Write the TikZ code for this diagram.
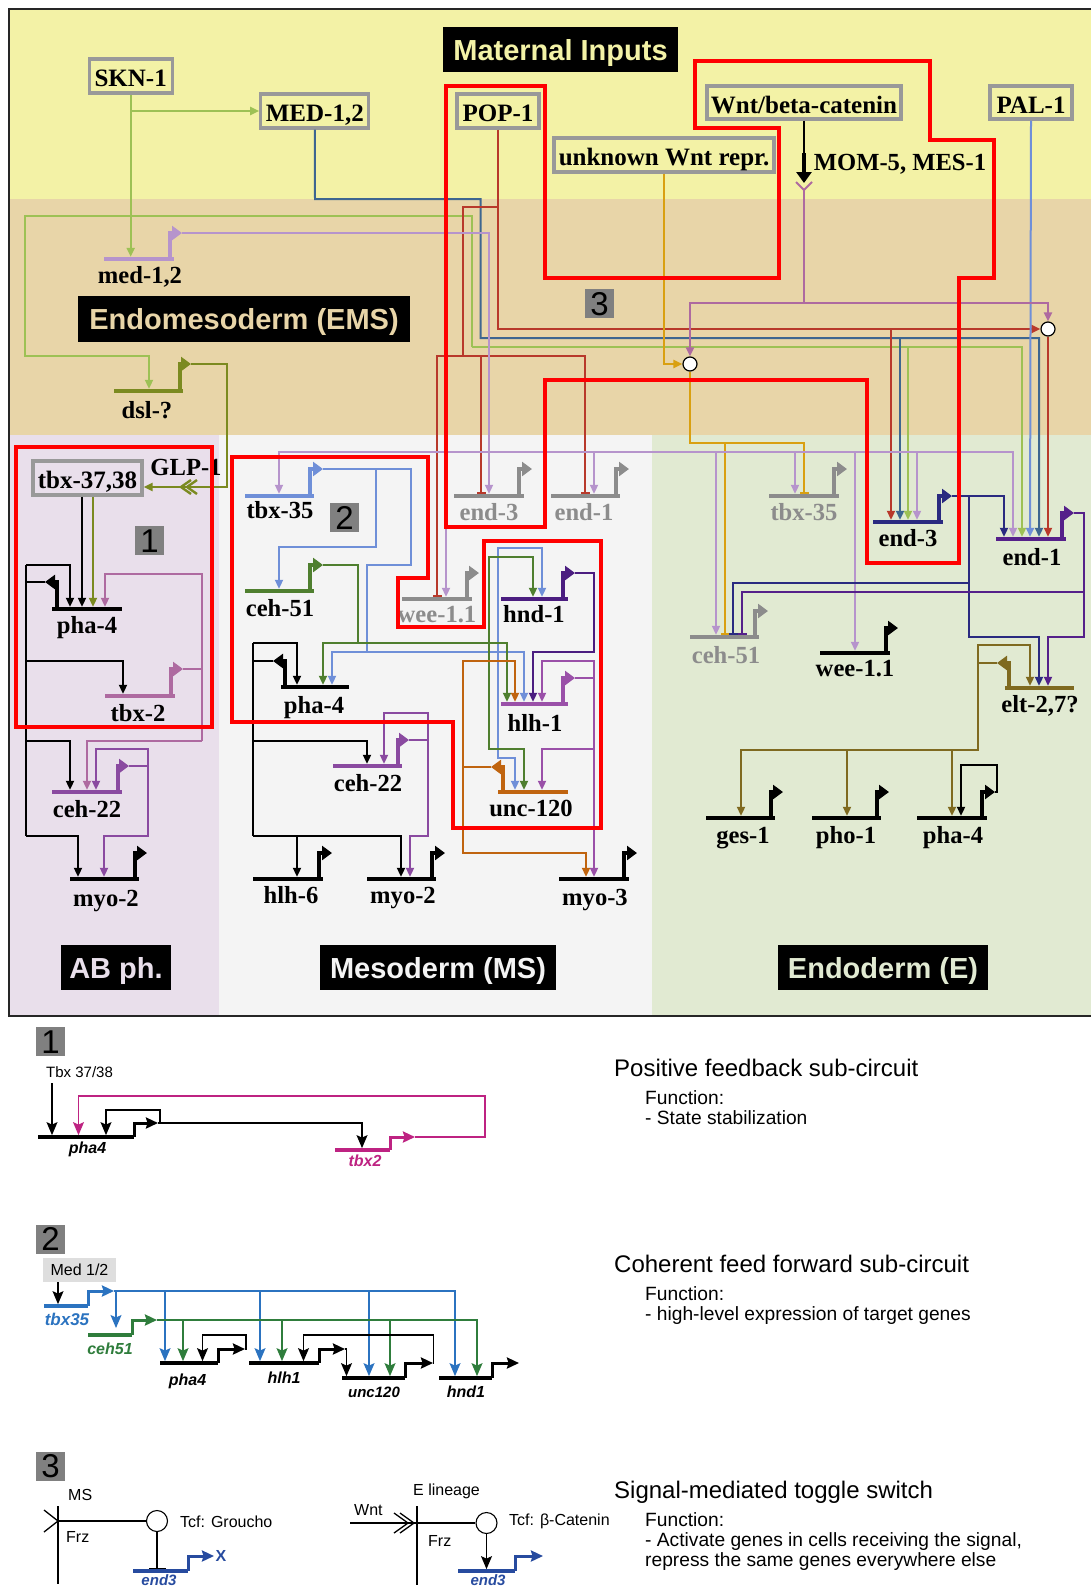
\documentclass[tikz,border=0pt]{standalone}
\usepackage{fontspec}
\setmainfont{Liberation Serif}
\setsansfont{Liberation Sans}
\usepackage{xcolor}
\usetikzlibrary{arrows.meta}

\definecolor{cyellow}{HTML}{F3F2A6}
\definecolor{ctan}{HTML}{E8D5A8}
\definecolor{clav}{HTML}{E9DFEB}
\definecolor{cms}{HTML}{F4F4F4}
\definecolor{cend}{HTML}{E1EAD2}
\definecolor{cboxg}{HTML}{999999}
\definecolor{cnum}{HTML}{808080}
\definecolor{cgene}{HTML}{8C8C8C}
\definecolor{cskn}{HTML}{9DC155}
\definecolor{cmed}{HTML}{3D6690}
\definecolor{cpop}{HTML}{B8392B}
\definecolor{clil}{HTML}{B694CC}
\definecolor{colive}{HTML}{7B8A20}
\definecolor{cblue}{HTML}{6F8FD8}
\definecolor{cgreen}{HTML}{4F7F2F}
\definecolor{cwnt}{HTML}{D9A011}
\definecolor{cmag}{HTML}{AE6AA0}
\definecolor{cpur}{HTML}{8A4AA0}
\definecolor{chnd}{HTML}{4B1D80}
\definecolor{chlh}{HTML}{9A50A8}
\definecolor{cunc}{HTML}{C0640F}
\definecolor{cnavy}{HTML}{2A2A80}
\definecolor{cviol}{HTML}{55208A}
\definecolor{celt}{HTML}{7F6A20}
\definecolor{lmag}{HTML}{BE2382}
\definecolor{lblue}{HTML}{2B73C0}
\definecolor{lgreen}{HTML}{2F7D3C}
\definecolor{lnavy}{HTML}{274B9F}

% name, colour, left, right, y, stem x, tip x, tip y
\newcommand{\gene}[8]{
\node [genebar, fill=#2, minimum width=#4pt-#3pt] (#1) at (#3/2+#4/2,#5) {};
\coordinate (#1-tip) at (#7,#8);
\draw [stem, #2] (#6,#5) -- (#6,#8) -- (#1-tip);
}
% name, colour, left, right, y, tip y, tip x
\newcommand{\lowgene}[7]{
\node [lowbar, fill=#2, minimum width=#4pt-#3pt] (#1) at (#3/2+#4/2,#5) {};
\coordinate (#1-tip) at (#7,#6);
\draw [lowstem, #2] (#4,#5) -- (#4,#6) -- (#1-tip);
}

\begin{document}
\begin{tikzpicture}[x=1pt, y=-1pt]
\tikzstyle{genebar} = [rectangle, inner sep=0pt, minimum height=4pt]
\tikzstyle{lowbar} = [rectangle, inner sep=0pt, minimum height=3.4pt]
\tikzstyle{stem} = [line width=3.4pt, -{Triangle[length=10pt,width=14pt]}]
\tikzstyle{lowstem} = [line width=3pt, -{Stealth[length=12pt,width=11pt,inset=1.5pt]}]
\tikzstyle{wire} = [line width=2pt]
\tikzstyle{act} = [wire, -{Triangle[length=9pt,width=8pt]}]
\tikzstyle{rep} = [wire, -{Bar[width=9pt,line width=2pt]}]
\tikzstyle{thin} = [line width=1.3pt]
\tikzstyle{lowact} = [thin, -{Stealth[length=13pt,width=11pt,inset=2.5pt]}]
\tikzstyle{input} = [rectangle, draw=cboxg, line width=3.2pt, inner sep=0pt, text height=21pt, text depth=0pt, font=\fontsize{25}{25}\selectfont\bfseries]
\tikzstyle{genelabel} = [inner sep=0pt, font=\fontsize{24.6}{25}\selectfont\bfseries]
\tikzstyle{title} = [rectangle, fill=black, inner sep=0pt, text height=21pt, text depth=0pt, font=\sffamily\fontsize{29}{29}\selectfont\bfseries]
\tikzstyle{num} = [rectangle, fill=cnum, text=black, inner sep=0pt, minimum size=29pt, text height=23.6pt, text depth=0pt, font=\sffamily\fontsize{33}{33}\selectfont]
\tikzstyle{lowlabel} = [inner sep=0pt, font=\sffamily\fontsize{16}{16}\selectfont\bfseries\itshape]
\tikzstyle{small} = [inner sep=0pt, anchor=west, font=\sffamily\fontsize{15}{15}\selectfont]
\tikzstyle{smalltoo} = [inner sep=0pt, anchor=west, font=\sffamily\fontsize{16}{16}\selectfont]
\tikzstyle{head} = [inner sep=0pt, anchor=base west, font=\sffamily\fontsize{24}{24}\selectfont]
\tikzstyle{body} = [inner sep=0pt, anchor=base west, font=\sffamily\fontsize{19.2}{19}\selectfont]
\tikzstyle{signal} = [circle, draw=black, fill=white, line width=1.2pt, inner sep=0pt, minimum size=14pt]
\tikzstyle{redbox} = [red, line width=4pt, line join=miter]

\useasboundingbox (0,0) rectangle (1091,1587);
\fill [white] (0,0) rectangle (1091,1587);

% regions
\fill [cyellow] (9,9) rectangle (1091,199);
\fill [ctan] (9,199) rectangle (1091,435);
\fill [clav] (9,435) rectangle (219,1016);
\fill [cms] (219,435) rectangle (652,1016);
\fill [cend] (652,435) rectangle (1091,1016);
\draw [line width=2pt, black!85] (1091,9) -- (9,9) -- (9,1016) -- (1091,1016);

% region titles
\node [title, text=cyellow, minimum width=235pt, minimum height=45pt] (tmat) at (560.5,49.5) {Maternal Inputs};
\node [title, text=ctan, minimum width=332pt, minimum height=46pt] (tems) at (244,319) {Endomesoderm (EMS)};
\node [title, text=clav, minimum width=110pt, minimum height=45pt] (tab) at (116,967.5) {AB ph.};
\node [title, text=cms, minimum width=236pt, minimum height=45pt] (tms) at (438,967.5) {Mesoderm (MS)};
\node [title, text=cend, minimum width=210pt, minimum height=45pt] (tend) at (883,967.5) {Endoderm (E)};

% maternal factors
\node [input, minimum width=83pt, minimum height=34pt] (sknbox) at (130.7,76) {SKN-1};
\node [input, minimum width=108pt, minimum height=34pt] (medbox) at (314.8,111) {MED-1,2};
\node [input, minimum width=82pt, minimum height=34pt] (popbox) at (498,111) {POP-1};
\node [input, minimum width=194pt, minimum height=33pt] (wntbox) at (804,102.5) {Wnt/beta-catenin};
\node [input, minimum width=82pt, minimum height=33pt] (palbox) at (1031,102.5) {PAL-1};
\node [input, minimum width=220pt, minimum height=34pt] (unkbox) at (664,155) {unknown Wnt repr.};
\node [input, minimum width=109pt, minimum height=34pt] (tbxbox) at (87.5,478) {tbx-37,38};
\node [genelabel] (momlab) at (900,164) {MOM-5, MES-1};
\node [genelabel] (glplab) at (186,467) {GLP-1};

% genes
\gene{med12}{clil}{104}{174}{259}{170}{182}{233}
\gene{dsl}{colive}{114}{183}{391}{180}{191}{364}
\gene{abpha4}{black}{52}{122}{609}{57}{45}{582}
\gene{abtbx2}{cmag}{105}{175}{696}{171}{183}{669}
\gene{abceh22}{cpur}{52}{122}{792}{118}{129}{766}
\gene{abmyo2}{black}{70}{139}{879}{135}{147}{853}
\gene{mstbx35}{cblue}{245}{314}{496}{310}{323}{469}
\gene{msceh51}{cgreen}{245}{314}{591}{310}{323}{565}
\gene{mspha4}{black}{281}{349}{687}{285}{273}{661}
\gene{msceh22}{cpur}{333}{402}{766}{398}{409}{740}
\gene{mshlh6}{black}{253}{323}{879}{319}{332}{853}
\gene{msmyo2}{black}{367}{436}{879}{432}{445}{853}
\gene{msmyo3}{black}{559}{629}{879}{624}{637}{853}
\gene{msend3}{cgene}{454}{524}{496}{519}{532}{469}
\gene{msend1}{cgene}{551}{620}{496}{616}{629}{469}
\gene{mswee1}{cgene}{402}{472}{599}{467}{479}{573}
\gene{mshnd1}{chnd}{501}{568}{599}{563}{575}{573}
\gene{mshlh1}{chlh}{501}{568}{704}{563}{575}{678}
\gene{msunc120}{cunc}{498}{568}{792}{503}{491}{767}
\gene{etbx35}{cgene}{769}{839}{496}{834}{847}{469}
\gene{eend3}{cnavy}{873}{943}{522}{939}{952}{496}
\gene{eend1}{cviol}{996}{1066}{539}{1062}{1074}{513}
\gene{eceh51}{cgene}{690}{759}{637}{755}{768}{611}
\gene{ewee1}{black}{820}{890}{653}{886}{898}{628}
\gene{eelt}{celt}{1005}{1074}{688}{1009}{997}{663}
\gene{eges1}{black}{706}{775}{818}{771}{783}{792}
\gene{epho1}{black}{812}{881}{818}{877}{889}{792}
\gene{epha4}{black}{917}{987}{818}{982}{995}{792}

% gene names
\node [genelabel] (med12l) at (140,277) {med-1,2};
\node [genelabel] (dsll) at (147,410) {dsl-?};
\node [genelabel] (abpha4l) at (87,628) {pha-4};
\node [genelabel] (abtbx2l) at (138,713) {tbx-2};
\node [genelabel] (abceh22l) at (87,809) {ceh-22};
\node [genelabel] (abmyo2l) at (106,901) {myo-2};
\node [genelabel] (mstbx35l) at (280,510) {tbx-35};
\node [genelabel] (msceh51l) at (280,608) {ceh-51};
\node [genelabel] (mspha4l) at (314,708) {pha-4};
\node [genelabel] (msceh22l) at (368,783) {ceh-22};
\node [genelabel] (mshlh6l) at (291,895) {hlh-6};
\node [genelabel] (msmyo2l) at (403,898) {myo-2};
\node [genelabel] (msmyo3l) at (595,900) {myo-3};
\node [genelabel, cgene] (msend3l) at (489,512) {end-3};
\node [genelabel, cgene] (msend1l) at (584,512) {end-1};
\node [genelabel, cgene] (mswee1l) at (437,615) {wee-1.1};
\node [genelabel] (mshnd1l) at (534,614) {hnd-1};
\node [genelabel] (mshlh1l) at (535,723) {hlh-1};
\node [genelabel] (msunc120l) at (531,808) {unc-120};
\node [genelabel, cgene] (etbx35l) at (804,512) {tbx-35};
\node [genelabel] (eend3l) at (908,538) {end-3};
\node [genelabel] (eend1l) at (1032,557) {end-1};
\node [genelabel, cgene] (eceh51l) at (726,655) {ceh-51};
\node [genelabel] (ewee1l) at (855,669) {wee-1.1};
\node [genelabel] (eeltl) at (1040,706) {elt-2,7?};
\node [genelabel] (eges1l) at (743,838) {ges-1};
\node [genelabel] (epho1l) at (846,838) {pho-1};
\node [genelabel] (epha4l) at (953,838) {pha-4};

% signal switches
\node [signal] (sigleft) at (690,364) {};
\node [signal] (sigright) at (1048,329) {};

% SKN-1
\draw [act, cskn] (sknbox.south) -- (130.7,0 |- med12.north);
\draw [act, cskn] (sknbox.south |- medbox.west) -- (medbox.west);
\draw [act, cskn] (472,347) -- (472,216) -- (25,216) -- (25,356) -- (149,356) -- (149,0 |- dsl.north);
\draw [act, cskn] (472,347) -- (1022,347) -- (1022,0 |- eend1.north);
\draw [act, cskn] (908,347) -- (908,0 |- eend3.north);
% MED-1,2
\draw [act, cmed] (medbox.south) -- (315,199) -- (480.5,199) -- (480.5,338) -- (1039,338) -- (1039,0 |- eend1.north);
\draw [act, cmed] (900,338) -- (900,0 |- eend3.north);
% POP-1
\draw [act, cpop] (popbox.south) -- (498,329) -- (sigright.west);
\draw [wire, cpop] (498,207) -- (463,207) -- (463,356);
\draw [rep, cpop] (463,356) -- (437,356) -- (437,0 |- mswee1.north);
\draw [rep, cpop] (463,356) -- (585,356) -- (585,0 |- msend1.north);
\draw [rep, cpop] (481,356) -- (481,0 |- msend3.north);
\draw [act, cpop] (891,329) -- (891,0 |- eend3.north);
\draw [act, cpop] (sigright.south) -- (1048,0 |- eend1.north);
% PAL-1
\draw [act, cblue] (palbox.south) -- (1030,0 |- eend1.north);
% Wnt
\coordinate (frizzled) at (804,190);
\draw [wire, black] (wntbox.south) -- (804,155);
\draw [line width=3.5pt, -{Triangle[length=11pt,width=15pt]}] (804,153) -- (804,183);
\draw [wire, cmag] (796,182) -- (frizzled) -- (812,182);
\draw [wire, cmag] (frizzled) -- (804,303);
\draw [act, cmag] (804,303) -- (690,303) -- (sigleft.north);
\draw [act, cmag] (804,303) -- (1048,303) -- (sigright.north);
\draw [act, cwnt] (unkbox.south) -- (664,364) -- (sigleft.west);
\draw [wire, cwnt] (sigleft.south) -- (690,443) -- (725,443);
\draw [rep, cwnt] (725,443) -- (804,443) -- (804,0 |- etbx35.north);
\draw [rep, cwnt] (725,443) -- (725,0 |- eceh51.north);
% med-1,2
\draw [act, clil] (med12-tip) -- (489,233) -- (489,0 |- msend3.north);
\draw [act, clil] (489,452) -- (279,452) -- (279,0 |- mstbx35.north);
\draw [act, clil] (489,452) -- (1013,452) -- (1013,0 |- eend1.north);
\draw [act, clil] (446,452) -- (446,0 |- mswee1.north);
\draw [act, clil] (594,452) -- (594,0 |- msend1.north);
\draw [act, clil] (716,452) -- (716,0 |- eceh51.north);
\draw [act, clil] (795,452) -- (795,0 |- etbx35.north);
\draw [act, clil] (855,452) -- (855,0 |- ewee1.north);
\draw [act, clil] (917,452) -- (917,0 |- eend3.north);
% dsl-?
\draw [act, colive] (dsl-tip) -- (227,364) -- (227,487) -- (tbxbox.east |- 0,487);
\draw [line width=2.4pt, colive] (197,480) -- (187,487) -- (197,494);
\draw [line width=2.4pt, colive] (191,480) -- (181,487) -- (191,494);
% AB
\draw [wire, black] (26,565) -- (26,836);
\draw [wire, black] (abpha4-tip) -- (26,582);
\draw [act, black] (26,565) -- (70,565) -- (70,0 |- abpha4.north);
\draw [act, black] (82,0 |- tbxbox.south) -- (82,0 |- abpha4.north);
\draw [act, colive] (93,0 |- tbxbox.south) -- (93,0 |- abpha4.north);
\draw [wire, cmag] (abtbx2-tip) -- (202,669);
\draw [act, cmag] (202,741) -- (202,574) -- (105,574) -- (105,0 |- abpha4.north);
\draw [act, cmag] (202,741) -- (87,741) -- (87,0 |- abceh22.north);
\draw [act, black] (26,661) -- (123,661) -- (123,0 |- abtbx2.north);
\draw [act, black] (26,741) -- (70,741) -- (70,0 |- abceh22.north);
\draw [wire, cpur] (abceh22-tip) -- (148,766);
\draw [act, cpur] (148,766) -- (148,749) -- (96,749) -- (96,0 |- abceh22.north);
\draw [act, cpur] (148,766) -- (148,836) -- (104,836) -- (104,0 |- abmyo2.north);
\draw [act, black] (26,836) -- (78,836) -- (78,0 |- abmyo2.north);
% MS tbx-35
\draw [wire, cblue] (mstbx35-tip) -- (411,469) -- (411,565) -- (367,565) -- (367,652);
\draw [act, cblue] (367,652) -- (332,652) -- (332,0 |- mspha4.north);
\draw [act, cblue] (367,652) -- (524,652) -- (524,0 |- mshlh1.north);
\draw [act, cblue] (376,469) -- (376,547) -- (279,547) -- (279,0 |- msceh51.north);
\draw [act, cblue] (498,652) -- (498,548) -- (542,548) -- (542,0 |- mshnd1.north);
\draw [act, cblue] (498,652) -- (498,758) -- (515,758) -- (515,0 |- msunc120.north);
% MS ceh-51
\draw [wire, cgreen] (msceh51-tip) -- (358,565) -- (358,643);
\draw [act, cgreen] (358,643) -- (323,643) -- (323,0 |- mspha4.north);
\draw [act, cgreen] (358,643) -- (507,643) -- (507,0 |- mshlh1.north);
\draw [act, cgreen] (489,643) -- (489,557) -- (533,557) -- (533,0 |- mshnd1.north);
\draw [act, cgreen] (489,643) -- (489,749) -- (524,749) -- (524,0 |- msunc120.north);
% MS pha-4
\draw [wire, black] (253,643) -- (253,836);
\draw [wire, black] (mspha4-tip) -- (253,661);
\draw [act, black] (253,643) -- (297,643) -- (297,0 |- mspha4.north);
\draw [act, black] (253,741) -- (367,741) -- (367,0 |- msceh22.north);
\draw [act, black] (253,836) -- (297,836) -- (297,0 |- mshlh6.north);
\draw [act, black] (253,836) -- (401,836) -- (401,0 |- msmyo2.north);
% MS ceh-22
\draw [wire, cpur] (msceh22-tip) -- (428,740);
\draw [act, cpur] (428,740) -- (428,713) -- (384,713) -- (384,0 |- msceh22.north);
\draw [act, cpur] (428,740) -- (428,836) -- (410,836) -- (410,0 |- msmyo2.north);
% MS hnd-1
\draw [act, chnd] (mshnd1-tip) -- (594,573) -- (594,652) -- (533,652) -- (533,0 |- mshlh1.north);
% MS hlh-1
\draw [wire, chlh] (mshlh1-tip) -- (594,678);
\draw [act, chlh] (594,678) -- (594,661) -- (542,661) -- (542,0 |- mshlh1.north);
\draw [act, chlh] (594,678) -- (594,0 |- msmyo3.north);
\draw [act, chlh] (594,749) -- (542,749) -- (542,0 |- msunc120.north);
% MS unc-120
\draw [wire, cunc] (msunc120-tip) -- (463,767);
\draw [act, cunc] (463,767) -- (463,661) -- (515,661) -- (515,0 |- mshlh1.north);
\draw [act, cunc] (463,767) -- (463,853) -- (586,853) -- (586,0 |- msmyo3.north);
% E end-3
\draw [act, cnavy] (eend3-tip) -- (1004,496) -- (1004,0 |- eend1.north);
\draw [wire, cnavy] (969,496) -- (969,583);
\draw [rep, cnavy] (969,583) -- (733,583) -- (733,0 |- eceh51.north);
\draw [act, cnavy] (969,583) -- (969,637) -- (1039,637) -- (1039,0 |- eelt.north);
% E end-1
\draw [wire, cviol] (eend1-tip) -- (1084,513) -- (1084,592);
\draw [rep, cviol] (1084,592) -- (742,592) -- (742,0 |- eceh51.north);
\draw [act, cviol] (1084,592) -- (1084,637) -- (1048,637) -- (1048,0 |- eelt.north);
% E elt-2,7
\draw [wire, celt] (eelt-tip) -- (978,663);
\draw [act, celt] (978,663) -- (978,645) -- (1030,645) -- (1030,0 |- eelt.north);
\draw [act, celt] (978,663) -- (978,750) -- (741,750) -- (741,0 |- eges1.north);
\draw [act, celt] (847,750) -- (847,0 |- epho1.north);
\draw [act, celt] (952,750) -- (952,0 |- epha4.north);
\draw [act, black] (epha4-tip) -- (997,792) -- (997,765) -- (961,765) -- (961,0 |- epha4.north);

% numbers in the network
\node [num] (numa) at (149.5,540.5) {1};
\node [num] (numb) at (344.5,517.5) {2};
\node [num] (numc) at (599.5,303.5) {3};

% sub-circuit outlines
\draw [redbox] (16,447) rectangle (212,727);
\draw [redbox] (232,457) -- (428,457) -- (428,578) -- (398,578) -- (398,627) -- (484,627) -- (484,541) -- (601,541) -- (601,828) -- (453,828) -- (453,722) -- (232,722) -- cycle;
\draw [redbox] (446,86) -- (544.5,86) -- (544.5,278) -- (779,278) -- (779,128) -- (694.5,128) -- (694.5,61) -- (930,61) -- (930,140) -- (994,140) -- (994,278) -- (959,278) -- (959,563) -- (867,563) -- (867,380) -- (545,380) -- (545,527) -- (446,527) -- cycle;

% panel 1
\node [num] (lowa) at (50.5,1041.5) {1};
\node [small] (tbxlab) at (46,1072) {Tbx 37/38};
\lowgene{lpha4}{black}{38}{134}{1137}{1123}{158}
\lowgene{ltbx2}{lmag}{335}{390}{1150}{1137}{415}
\node [lowlabel] (lpha4l) at (87.5,1149) {pha4};
\node [lowlabel, lmag] (ltbx2l) at (365,1161) {tbx2};
\draw [lowact, black] (52,1083) -- (52,0 |- lpha4.north);
\draw [thin, black] (lpha4-tip) -- (160,1123);
\draw [lowact, black] (160,1123) -- (160,1110) -- (106,1110) -- (106,0 |- lpha4.north);
\draw [lowact, black] (160,1123) -- (362,1123) -- (362,0 |- ltbx2.north);
\draw [lowact, lmag] (ltbx2-tip) -- (485,1137) -- (485,1096) -- (78.5,1096) -- (78.5,0 |- lpha4.north);
\node [head] (heada) at (614,1076) {Positive feedback sub-circuit};
\node [body] (funa) at (645,1104) {Function:};
\node [body] (texta) at (645,1124.5) {- State stabilization};

% panel 2
\node [num] (lowb) at (50.5,1239) {2};
\node [rectangle, fill=black!13, inner sep=0pt, minimum width=73pt, minimum height=24pt, font=\sffamily\fontsize{16}{16}\selectfont] (medlab) at (79.5,1270) {Med 1/2};
\lowgene{ltbx35}{lblue}{44}{88}{1306}{1291}{114}
\lowgene{lceh51}{lgreen}{87.5}{132}{1335}{1320}{157}
\lowgene{lpha4b}{black}{160}{218}{1363}{1349}{245}
\lowgene{lhlh1}{black}{249}{319}{1363}{1349}{345}
\lowgene{lunc120}{black}{342}{405}{1378}{1363}{433}
\lowgene{lhnd1}{black}{439}{492}{1378}{1363}{519}
\node [lowlabel, lblue, font=\sffamily\fontsize{17}{17}\selectfont\bfseries\itshape] (ltbx35l) at (67,1319) {tbx35};
\node [lowlabel, lgreen] (lceh51l) at (110,1349) {ceh51};
\node [lowlabel] (lpha4bl) at (187.5,1381) {pha4};
\node [lowlabel] (lhlh1l) at (284,1378) {hlh1};
\node [lowlabel, font=\sffamily\fontsize{15}{15}\selectfont\bfseries\itshape] (lunc120l) at (374,1392) {unc120};
\node [lowlabel] (lhnd1l) at (466,1392) {hnd1};
\draw [lowact, black] (58,0 |- medlab.south) -- (58,0 |- ltbx35.north);
\draw [lowact, lblue] (ltbx35-tip) -- (455,1291) -- (455,0 |- lhnd1.north);
\draw [lowact, lblue] (116,1291) -- (116,1328);
\draw [lowact, lblue] (165,1291) -- (165,0 |- lpha4b.north);
\draw [lowact, lblue] (260,1291) -- (260,0 |- lhlh1.north);
\draw [lowact, lblue] (369,1291) -- (369,0 |- lunc120.north);
\draw [lowact, lgreen] (lceh51-tip) -- (477,1320) -- (477,0 |- lhnd1.north);
\draw [lowact, lgreen] (183,1320) -- (183,0 |- lpha4b.north);
\draw [lowact, lgreen] (282,1320) -- (282,0 |- lhlh1.north);
\draw [lowact, lgreen] (390,1320) -- (390,0 |- lunc120.north);
\draw [lowact, black] (lpha4b-tip) -- (246,1349) -- (246,1335) -- (202.5,1335) -- (202.5,0 |- lpha4b.north);
\draw [lowact, black] (lhlh1-tip) -- (346.5,1349) -- (346.5,0 |- lunc120.north);
\draw [lowact, black] (lunc120-tip) -- (433.5,1363) -- (433.5,1335) -- (303.5,1335) -- (303.5,0 |- lhlh1.north);
\node [head] (headb) at (614,1272) {Coherent feed forward sub-circuit};
\node [body] (funb) at (645,1300) {Function:};
\node [body] (textb) at (645,1320) {- high-level expression of target genes};

% panel 3
\node [num] (lowc) at (50.5,1466) {3};
\node [smalltoo] (mslab) at (68,1495) {MS};
\coordinate (frza) at (58,1521);
\draw [thin, black] (58,1506) -- (58,1584);
\draw [thin, black] (44,1510) -- (frza) -- (44,1532);
\node [circle, draw=black, fill=white, line width=1.1pt, inner sep=0pt, minimum size=21pt] (tcfa) at (157,1521) {};
\draw [thin, black] (frza) -- (tcfa);
\node [smalltoo] (frzlaba) at (66,1537) {Frz};
\node [smalltoo] (grolab) at (180,1522) {Tcf: Groucho};
\lowgene{lend3a}{lnavy}{133}{188}{1571}{1556}{214}
\node [lowlabel, lnavy, font=\sffamily\fontsize{15}{15}\selectfont\bfseries\itshape] (lend3al) at (159,1580) {end3};
\node [inner sep=0pt, lnavy, font=\sffamily\fontsize{16}{16}\selectfont\bfseries] (xlab) at (221,1556) {X};
\draw [thin, black, -{Bar[width=17pt,line width=1.3pt]}] (tcfa.south) -- (157,0 |- lend3a.north);
\node [smalltoo] (elab) at (413,1491) {E lineage};
\coordinate (frzb) at (414,1523);
\draw [thin, black] (417,1506) -- (417,1585);
\node [circle, draw=black, fill=white, line width=1.1pt, inner sep=0pt, minimum size=21pt] (tcfb) at (486.5,1523) {};
\draw [thin, black] (frzb) -- (tcfb);
\draw [thin, black] (350,1523) -- (frzb);
\draw [thin, black] (400,1513) -- (414,1523) -- (400,1533);
\draw [thin, black] (394,1513) -- (408,1523) -- (394,1533);
\node [smalltoo] (wntlab) at (354,1510) {Wnt};
\node [smalltoo] (frzlabb) at (428,1541) {Frz};
\node [smalltoo] (catlab) at (509,1521) {Tcf: β-Catenin};
\lowgene{lend3b}{lnavy}{458}{515}{1571}{1556}{543}
\node [lowlabel, lnavy, font=\sffamily\fontsize{15}{15}\selectfont\bfseries\itshape] (lend3bl) at (488,1580) {end3};
\draw [lowact, black] (tcfb.south) -- (486.5,0 |- lend3b.north);
\node [head] (headc) at (614,1498) {Signal-mediated toggle switch};
\node [body] (func) at (645,1526) {Function:};
\node [body] (textc) at (645,1546) {- Activate genes in cells receiving the signal,};
\node [body] (textd) at (645,1566) {repress the same genes everywhere else};
\end{tikzpicture}
\end{document}
